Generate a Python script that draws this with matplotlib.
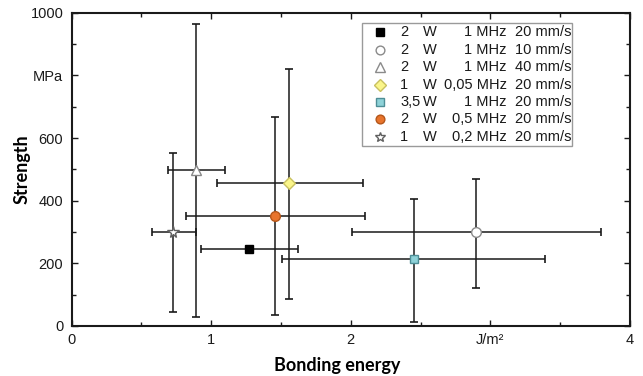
import numpy as np
import matplotlib.pyplot as plt
from matplotlib.patches import Rectangle

# data
power = ['2', '2', '2', '1', '3,5', '2', '1']
freq = ['1 MHz', '1 MHz', '1 MHz', '0,05 MHz', '1 MHz', '0,5 MHz', '0,2 MHz']
speed = ['20 mm/s', '10 mm/s', '40 mm/s', '20 mm/s', '20 mm/s', '20 mm/s', '20 mm/s']

energy = [1.27, 2.90, 0.89, 1.56, 2.45, 1.455, 0.726]
energy_lo = [0.93, 2.01, 0.69, 1.04, 1.51, 0.82, 0.575]
energy_hi = [1.62, 3.79, 1.10, 2.09, 3.39, 2.10, 0.89]
strength = [246, 300, 497, 455, 214, 352, 299]
strength_lo = [np.nan, 122, 29, 86, 13, 35, 46]
strength_hi = [np.nan, 470, 964, 821, 406, 668, 551]

# marker styles
markers = ['s', 'o', '^', 'D', 's', 'o', '*']
sizes = [6, 7, 7.5, 6.5, 5.8, 7, 8.5]
faces = ['black', 'white', 'white', '#FAF58A', '#8ED2D8', '#E8742C', 'white']
edges = ['black', '#8A8A8A', '#8A8A8A', '#C8C060', '#4E8E96', '#B4561A', '#606060']

plt.rcParams['font.family'] = ['Liberation Sans', 'DejaVu Sans']

fig = plt.figure(figsize=(6.43, 3.76), dpi=100)
ax = fig.add_axes([0.1115, 0.133, 0.868, 0.833])

for i in range(len(energy)):
    xerr = [[energy[i] - energy_lo[i]], [energy_hi[i] - energy[i]]]
    if np.isnan(strength_lo[i]):
        yerr = None
    else:
        yerr = [[strength[i] - strength_lo[i]], [strength_hi[i] - strength[i]]]
    ax.errorbar(energy[i], strength[i], xerr=xerr, yerr=yerr, fmt='none',
                ecolor='#1a1a1a', elinewidth=1.1, capsize=3.2, capthick=1.2, zorder=2)
    ax.plot(energy[i], strength[i], linestyle='none', marker=markers[i],
            markersize=sizes[i], markerfacecolor=faces[i], markeredgecolor=edges[i],
            markeredgewidth=1.0, zorder=3)

ax.set_xlim(0, 4)
ax.set_ylim(0, 1000)
ax.set_xticks([0, 1, 2, 3, 4])
ax.set_xticklabels(['0', '1', '2', 'J/m²', '4'])
ax.set_xticks(np.arange(0.5, 4, 1), minor=True)
ax.set_yticks([0, 200, 400, 600, 800, 1000])
ax.set_yticklabels(['0', '200', '400', '600', 'MPa', '1000'])
ax.set_yticks(np.arange(100, 1000, 200), minor=True)
ax.tick_params(which='both', direction='in', top=True, right=True, labelsize=10.5,
               colors='#1a1a1a')
ax.tick_params(which='major', length=4, width=1)
ax.tick_params(which='minor', length=3, width=1)
ax.tick_params(axis='x', pad=5)
ax.tick_params(axis='y', pad=6)
for s in ax.spines.values():
    s.set_linewidth(1.5)
    s.set_color('#1a1a1a')

fig.text(21.7 / 643, 1 - 169.4 / 376, 'Strength', rotation=90, ha='center', va='center',
         fontsize=13, fontweight='bold', family=['Lato', 'DejaVu Sans'])
fig.text(337 / 643, 1 - 365 / 376, 'Bonding energy', ha='center', va='center',
         fontsize=13, fontweight='bold', family=['Lato', 'DejaVu Sans'])

# legend drawn as a small table
ax.add_patch(Rectangle((0.5203, 0.5745), 0.3763, 0.3925, transform=ax.transAxes,
                       facecolor='white', edgecolor='#9a9a9a', linewidth=1.0, zorder=4))
for i in range(len(power)):
    ry = 0.9374 - 0.0555 * i
    ax.plot(0.553, ry, transform=ax.transAxes, linestyle='none', marker=markers[i],
            markersize=sizes[i] * 0.9, markerfacecolor=faces[i], markeredgecolor=edges[i],
            markeredgewidth=1.0, zorder=5, clip_on=False)
    ax.text(0.5884, ry, power[i], transform=ax.transAxes, ha='left', va='center',
            fontsize=10.5, zorder=5, color='#1a1a1a')
    ax.text(0.630, ry, 'W', transform=ax.transAxes, ha='left', va='center',
            fontsize=10.5, zorder=5, color='#1a1a1a')
    ax.text(0.7796, ry, freq[i], transform=ax.transAxes, ha='right', va='center',
            fontsize=10.5, zorder=5, color='#1a1a1a')
    ax.text(0.7944, ry, speed[i], transform=ax.transAxes, ha='left', va='center',
            fontsize=10.5, zorder=5, color='#1a1a1a')

fig.savefig('out.png', dpi=100)
